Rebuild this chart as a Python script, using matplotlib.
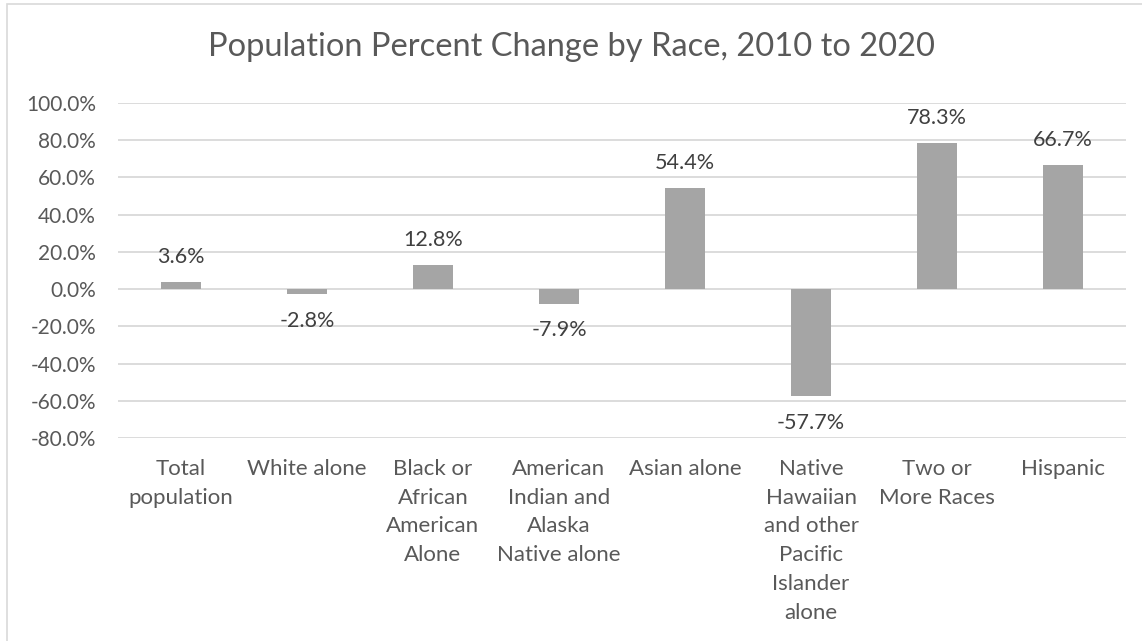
import matplotlib.pyplot as plt
from matplotlib.patches import Rectangle
from matplotlib.ticker import FuncFormatter

categories = ["Total\npopulation", "White alone", "Black or\nAfrican\nAmerican\nAlone",
              "American\nIndian and\nAlaska\nNative alone", "Asian alone",
              "Native\nHawaiian\nand other\nPacific\nIslander\nalone",
              "Two or\nMore Races", "Hispanic"]
pct_change = [3.6, -2.8, 12.8, -7.9, 54.4, -57.7, 78.3, 66.7]
yticks = [-80, -60, -40, -20, 0, 20, 40, 60, 80, 100]

plt.rcParams['font.family'] = ['Lato', 'DejaVu Sans']
txt = '#595959'
lbl = '#404040'

fig = plt.figure(figsize=(11.42, 6.41), dpi=100)
W, H = 1142, 641
ax = fig.add_axes([118 / W, 1 - 438 / H, (1126 - 118) / W, (438 - 103) / H])

# chart border (only left/top visible in the crop)
fig.patches.append(Rectangle((7 / W, -0.1), 1.2, 1 - 4 / H + 0.1, transform=fig.transFigure,
                             fill=False, edgecolor='#D9D9D9', linewidth=1.2))

x = list(range(len(categories)))
bars = ax.bar(x, pct_change, width=0.31, color='#A5A5A5', zorder=3)

ax.set_xlim(-0.5, len(categories) - 0.5)
ax.set_ylim(-80, 100)
ax.set_yticks(yticks)
ax.yaxis.set_major_formatter(FuncFormatter(lambda v, p: f"{v:.1f}%"))
ax.grid(axis='y', color='#D9D9D9', linewidth=1.3, zorder=0)
for s in ax.spines.values():
    s.set_visible(False)
ax.tick_params(axis='y', length=0, pad=16, labelsize=15, labelcolor=txt)
ax.set_xticks(x)
ax.set_xticklabels(categories, fontsize=16, color=txt, linespacing=1.55, va='top')
ax.tick_params(axis='x', length=0, pad=15)

for b, v in zip(bars, pct_change):
    off = 18 if v >= 0 else -19
    ax.annotate(f"{v:.1f}%", (b.get_x() + b.get_width() / 2, v), xytext=(0, off),
                textcoords='offset points', ha='center', va='center',
                fontsize=15.5, color=lbl)

fig.text(571 / W, 1 - 47 / H, "Population Percent Change by Race, 2010 to 2020",
         ha='center', va='center', fontsize=23.5, color=txt)

plt.savefig('out.png', dpi=100)
